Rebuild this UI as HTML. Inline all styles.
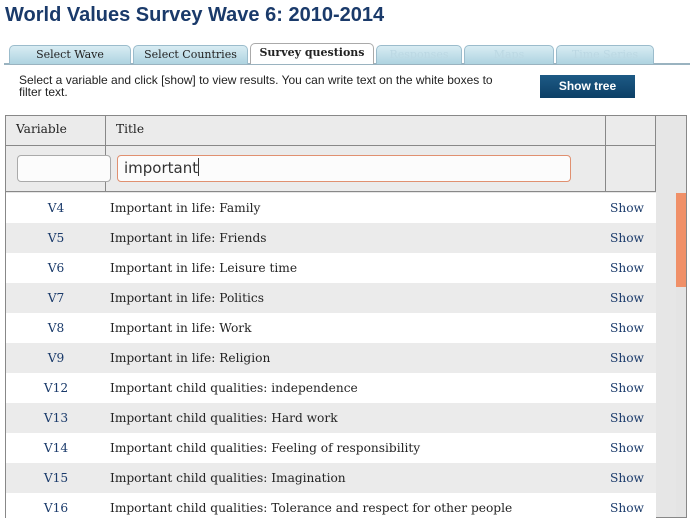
<!DOCTYPE html>
<html><head><meta charset="utf-8"><style>
*{margin:0;padding:0;box-sizing:border-box}
body{width:694px;height:529px;background:#fff;position:relative;overflow:hidden;font-family:"DejaVu Serif",serif}
.abs{position:absolute}
h1{position:absolute;left:5px;top:4px;font:bold 20px "Liberation Sans",sans-serif;color:#1a3a6a}
.tab{position:absolute;top:45px;height:19px;border:1px solid #9bbccc;border-bottom:none;border-radius:5px 5px 0 0;background:linear-gradient(#d8ecf3,#aed3e0);font-size:11px;text-align:center;line-height:17px;color:#222}
.tab.dis{color:#bcd8e3}
.tab.act{background:#fff;font-weight:bold;top:43px;height:21px;border-color:#aaa}
.row{position:absolute;left:6px;width:650px;height:30px;font-size:12.2px;line-height:30px;background:#fff}
.row.g{background:#ebebeb}
.v{position:absolute;left:0;width:100px;text-align:center;color:#1a3a6a}
.t{position:absolute;left:104px;color:#222}
.s{position:absolute;left:604px;color:#1a3a6a}
</style></head><body>
<h1>World Values Survey Wave 6: 2010-2014</h1>
<div class="abs" style="left:4px;top:63px;width:686px;height:2px;background:#9ab3c0"></div>
<div class="tab" style="left:9px;width:122px">Select Wave</div>
<div class="tab" style="left:133px;width:115px">Select Countries</div>
<div class="tab act" style="left:250px;width:124px">Survey questions</div>
<div class="tab dis" style="left:376px;width:86px">Responses</div>
<div class="tab dis" style="left:464px;width:90px">Maps</div>
<div class="tab dis" style="left:556px;width:98px">Time Series</div>
<div class="abs" style="left:19px;top:74px;width:490px;font:12px/12px 'Liberation Sans',sans-serif;color:#222">Select a variable and click [show] to view results. You can write text on the white boxes to filter text.</div>
<div class="abs" style="left:540px;top:75px;width:95px;height:23px;background:linear-gradient(#1d5a85,#0c3f66);color:#fff;font:bold 12px/23px 'Liberation Sans',sans-serif;text-align:center">Show tree</div>
<div class="abs" style="left:5px;top:115px;width:682px;height:403px;border:1px solid #888;background:#e6e6e6"></div>
<div class="abs" style="left:6px;top:116px;width:650px;height:76px;background:#ebebeb;border-bottom:1px solid #888"></div>
<div class="abs" style="left:6px;top:145px;width:650px;height:1px;background:#888"></div>
<div class="abs" style="left:105px;top:116px;width:1px;height:76px;background:#888"></div>
<div class="abs" style="left:605px;top:116px;width:1px;height:76px;background:#888"></div>
<div class="abs" style="left:655px;top:116px;width:1px;height:76px;background:#888"></div>
<div class="abs" style="left:16px;top:122px;font-size:12.2px;color:#222">Variable</div>
<div class="abs" style="left:116px;top:122px;font-size:12.2px;color:#222">Title</div>
<div class="abs" style="left:17px;top:155px;width:94px;height:27px;border:1px solid #aaa;border-radius:4px;background:#fcfcfc"></div>
<div class="abs" style="left:117px;top:155px;width:454px;height:27px;border:1px solid #e09070;border-radius:4px;background:#fcfcfc;font:15px/25px 'DejaVu Sans',sans-serif;padding-left:6px;color:#333">important<span style="display:inline-block;width:1px;height:18px;background:#333;vertical-align:-3px"></span></div>
<div class="abs" style="left:656px;top:193px;width:30px;height:324px;background:#e6e6e6"></div>
<div class="abs" style="left:676px;top:193px;width:10px;height:324px;background:#e4e4e4"></div>
<div class="abs" style="left:676px;top:193px;width:10px;height:94px;background:#f09068"></div>
<div id="rows"></div>
<script>
const vars=["V4","V5","V6","V7","V8","V9","V12","V13","V14","V15","V16"];
const titles=["Important in life: Family","Important in life: Friends","Important in life: Leisure time","Important in life: Politics","Important in life: Work","Important in life: Religion","Important child qualities: independence","Important child qualities: Hard work","Important child qualities: Feeling of responsibility","Important child qualities: Imagination","Important child qualities: Tolerance and respect for other people"];
const c=document.getElementById('rows');
vars.forEach((v,i)=>{
 const r=document.createElement('div');
 r.className='row'+(i%2?' g':'');
 r.style.top=(193+i*30)+'px';
 
 
 r.innerHTML='<span class="v">'+v+'</span><span class="t">'+titles[i]+'</span>';
 const s=document.createElement('span');
 s.className='s';s.textContent='Show';
 
 
 r.appendChild(s);
 c.appendChild(r);
});
</script>
</body></html>
